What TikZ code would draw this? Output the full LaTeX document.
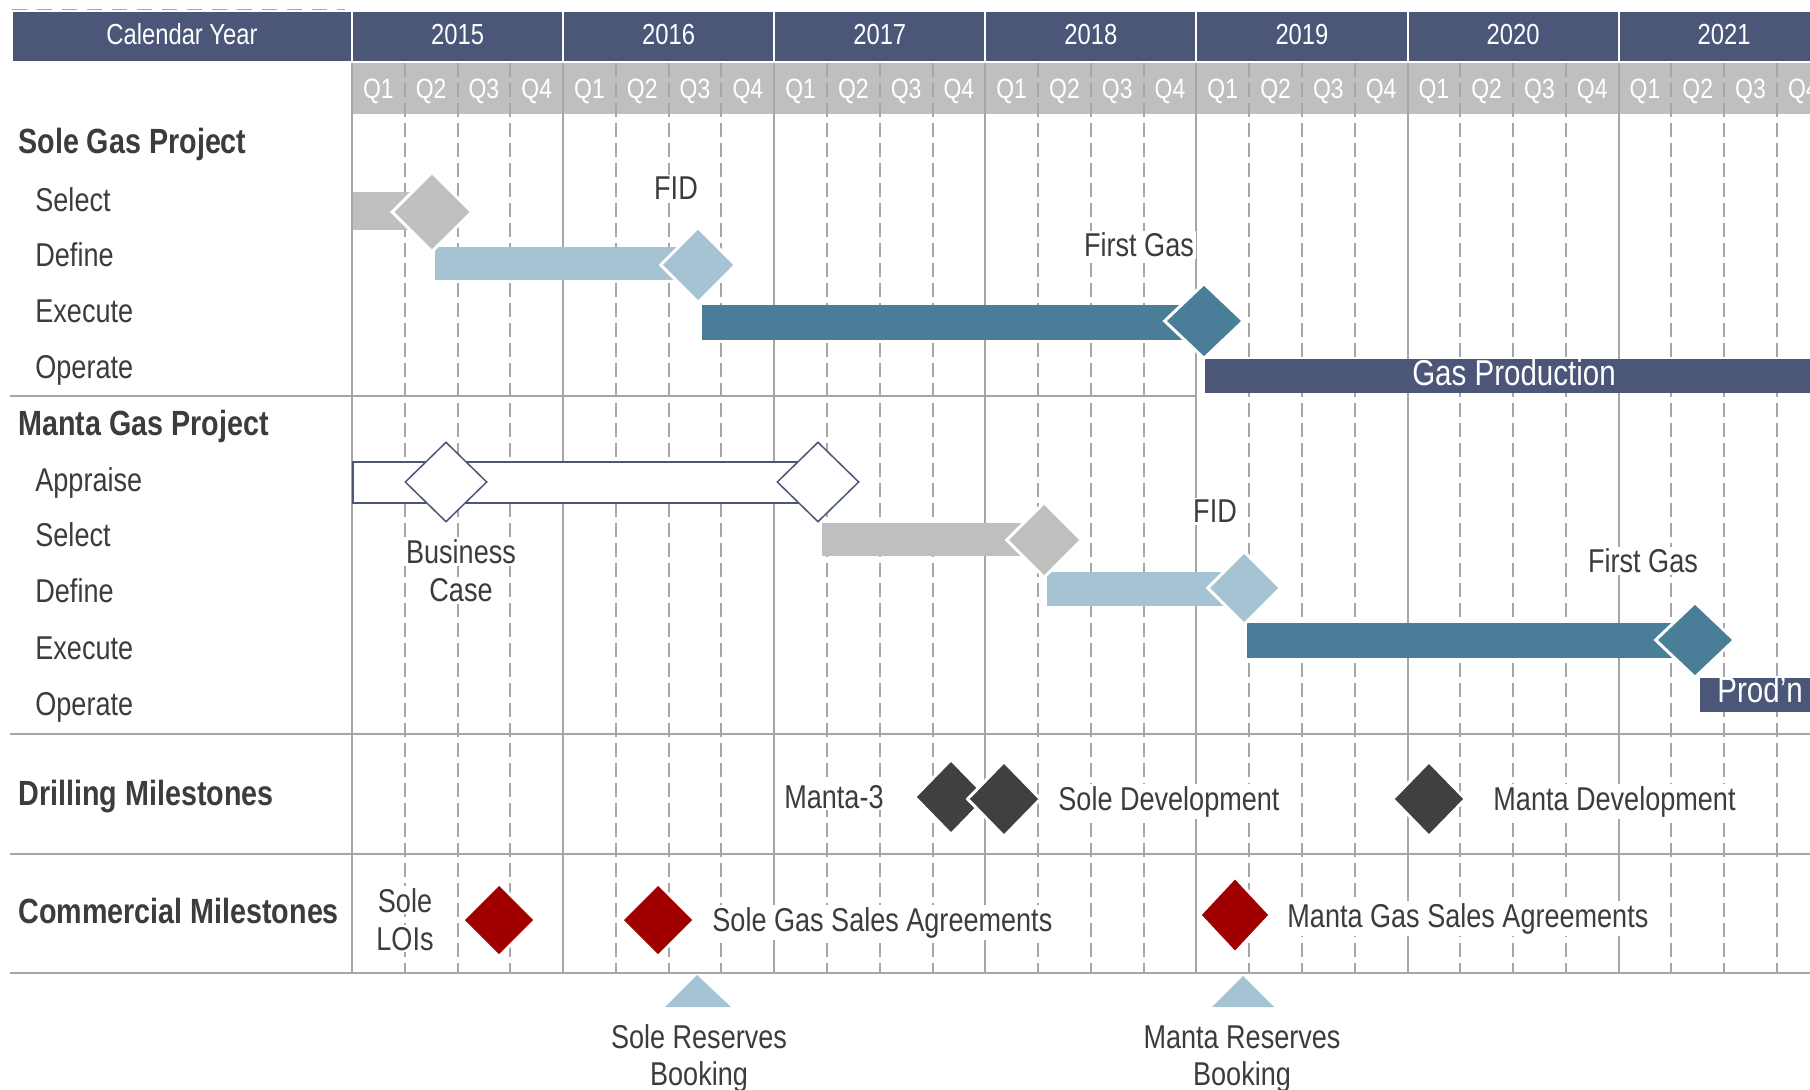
\documentclass[tikz,border=0pt]{standalone}
\usepackage{fontspec}
\setmainfont{Liberation Sans}[FakeStretch=0.82]
\usetikzlibrary{shapes.geometric}

\definecolor{hdrblue}{HTML}{4B5679}
\definecolor{qgray}{HTML}{BFBFBF}
\definecolor{lightblue}{HTML}{A6C3D3}
\definecolor{tealblue}{HTML}{4A7D97}
\definecolor{darkms}{HTML}{404040}
\definecolor{redms}{HTML}{A00000}
\definecolor{gridgray}{HTML}{A6A6A6}
\definecolor{txt}{HTML}{3C3C3C}

\begin{document}
\begin{tikzpicture}[x=0.5pt,y=-0.5pt,
    lbl/.style={text=txt,inner sep=0pt,font=\fontsize{16.5}{19}\selectfont},
    chartlbl/.style={lbl,fill=white,inner sep=1pt},
    grp/.style={text=txt,inner sep=0pt,font=\bfseries\fontsize{17.5}{20}\selectfont},
    hdr/.style={text=white,inner sep=0pt,font=\fontsize{14.5}{17}\selectfont},
    qtr/.style={text=white,inner sep=0pt,font=\fontsize{14}{16}\selectfont},
    barlbl/.style={text=white,inner sep=0pt,font=\fontsize{18}{20}\selectfont},
    ms/.style={diamond,draw=white,line width=1.5pt,inner sep=0pt,
               minimum width=38pt,minimum height=38pt},
    openms/.style={diamond,draw=hdrblue,fill=white,line width=0.75pt,inner sep=0pt,
               minimum width=41pt,minimum height=40pt},
    yearline/.style={draw=gridgray,line width=1pt},
    qline/.style={draw=gridgray,line width=1pt,dash pattern=on 7pt off 3pt},
    rowsep/.style={draw=gridgray,line width=1.25pt}]

    \useasboundingbox (0,0) rectangle (1810,1090);
    \fill[white] (0,0) rectangle (1810,1090);

    \draw[gridgray,line width=1pt,dash pattern=on 7.5pt off 5pt] (12,10) -- (345,10);
    \draw[fill=hdrblue,draw=white,line width=1pt] (12,11) rectangle (352,62);
    \node[hdr,anchor=base] (calyear) at (182,45) {Calendar Year};
    \fill[qgray] (352,63) rectangle (1830,114);

    \foreach \yr [count=\i from 0] in {2015,...,2021} {
      \draw[fill=hdrblue,draw=white,line width=1pt] (352+211.1*\i,11) rectangle +(211.1,51);
      \node[hdr,anchor=base] (y\yr) at (352+211.1*\i+105.55,45) {\yr};
      \foreach \q in {1,...,4}
        \node[qtr,anchor=base] (q\yr\q) at (352+211.1*\i+52.775*\q-26.39,99) {Q\q};
    }

    \foreach \i in {0,...,6} {
      \draw[yearline] (352+211.1*\i,63) -- (352+211.1*\i,973);
      \foreach \q in {1,2,3}
        \draw[qline] (352+211.1*\i+52.775*\q,63) -- (352+211.1*\i+52.775*\q,973);
    }

    \draw[rowsep] (10,396) -- (1197,396);
    \draw[rowsep] (10,734) -- (1810,734);
    \draw[rowsep] (10,854) -- (1810,854);
    \draw[rowsep] (10,973) -- (1810,973);

    \node[grp,anchor=base west] (solehd) at (18,154) {Sole Gas Project};
    \node[lbl,anchor=base west] (solesel) at (35,212) {Select};
    \node[lbl,anchor=base west] (soledef) at (35,267) {Define};
    \node[lbl,anchor=base west] (soleexe) at (35,323) {Execute};
    \node[lbl,anchor=base west] (soleop) at (35,379) {Operate};

    \node[grp,anchor=base west] (mntahd) at (18,436) {Manta Gas Project};
    \node[lbl,anchor=base west] (mntaapp) at (35,492) {Appraise};
    \node[lbl,anchor=base west] (mntasel) at (35,547) {Select};
    \node[lbl,anchor=base west] (mntadef) at (35,603) {Define};
    \node[lbl,anchor=base west] (mntaexe) at (35,660) {Execute};
    \node[lbl,anchor=base west] (mntaop) at (35,715) {Operate};

    \node[grp,anchor=base west] (drillhd) at (18,805) {Drilling Milestones};
    \node[grp,anchor=base west] (commhd) at (18,923) {Commercial Milestones};

    \fill[qgray] (353,192) rectangle (432,230);
    \fill[lightblue] (435,247) rectangle (698,280);
    \fill[tealblue] (702,305) rectangle (1204,340);
    \fill[hdrblue] (1205,359) rectangle (1830,393);
    \node[ms,fill=qgray,minimum width=40.5pt,minimum height=40pt] (msSoleSel) at (432,212) {};
    \node[ms,fill=lightblue] (msSoleFid) at (698,265) {};
    \node[ms,fill=tealblue,minimum width=40pt] (msSoleGas) at (1204,321) {};
    \node[chartlbl,anchor=base] (soleFid) at (676,200) {FID};
    \node[chartlbl,anchor=base] (soleFirst) at (1139,257) {First Gas};
    \node[barlbl,anchor=base] (gasprod) at (1514,386) {Gas Production};

    \draw[hdrblue,fill=white,line width=0.75pt] (353,462) rectangle (818,503);
    \fill[qgray] (822,523) rectangle (1044,556);
    \fill[lightblue] (1047,572) rectangle (1244,606);
    \fill[tealblue] (1247,623) rectangle (1695,658);
    \fill[hdrblue] (1700,678) rectangle (1830,712);
    \node[openms] (msBiz) at (446,482) {};
    \node[openms] (msMntaApp) at (818,482) {};
    \node[ms,fill=qgray] (msMntaSel) at (1044,540) {};
    \node[ms,fill=lightblue,minimum width=37pt,minimum height=37pt] (msMntaFid) at (1244,588) {};
    \node[ms,fill=tealblue,minimum width=40pt] (msMntaGas) at (1695,640) {};
    \node[chartlbl,anchor=base] (biz1) at (461,564) {Business};
    \node[chartlbl,anchor=base] (biz2) at (461,602) {Case};
    \node[chartlbl,anchor=base] (mntaFid) at (1215,523) {FID};
    \node[chartlbl,anchor=base] (mntaFirst) at (1643,573) {First Gas};
    \node[barlbl,anchor=base west] (prodn) at (1717,703) {Prod'n};

    \node[ms,fill=darkms,minimum width=37pt] (msManta3) at (951,797) {};
    \node[ms,fill=darkms,minimum width=37pt] (msSoleDev) at (1004,799) {};
    \node[ms,fill=darkms,minimum width=37pt] (msMntaDev) at (1429,799) {};
    \node[chartlbl,anchor=base east] (manta3) at (886,808) {Manta-3};
    \node[chartlbl,anchor=base west] (soledev) at (1056,810) {Sole Development};
    \node[chartlbl,anchor=base west] (mntadev) at (1491,810) {Manta Development};

    \node[ms,fill=redms,minimum width=37pt,minimum height=37pt] (msLoi) at (499,920) {};
    \node[ms,fill=redms,minimum width=37pt,minimum height=37pt] (msSoleGsa) at (658,920) {};
    \node[ms,fill=redms,minimum width=36pt,minimum height=38.5pt] (msMntaGsa) at (1235,915) {};
    \node[chartlbl,anchor=base] (loi1) at (405,912) {Sole};
    \node[chartlbl,anchor=base] (loi2) at (405,950) {LOIs};
    \node[chartlbl,anchor=base west] (solegsa) at (710,931) {Sole Gas Sales Agreements};
    \node[chartlbl,anchor=base west] (mntagsa) at (1285,927) {Manta Gas Sales Agreements};

    \fill[lightblue] (697,975) -- (731,1007) -- (665,1007) -- cycle;
    \fill[lightblue] (1243,976) -- (1274,1007) -- (1212,1007) -- cycle;
    \node[lbl,anchor=base] (soleres1) at (699,1048) {Sole Reserves};
    \node[lbl,anchor=base] (soleres2) at (699,1085) {Booking};
    \node[lbl,anchor=base] (mntares1) at (1242,1048) {Manta Reserves};
    \node[lbl,anchor=base] (mntares2) at (1242,1085) {Booking};
  \end{tikzpicture}
\end{document}
